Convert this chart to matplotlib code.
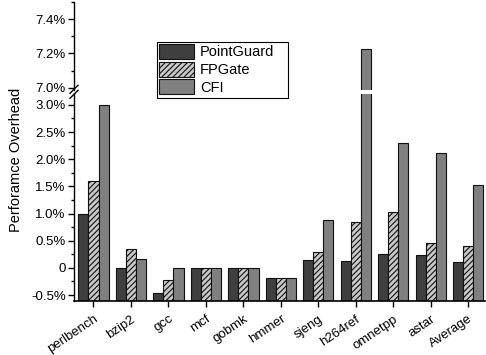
import numpy as np
import matplotlib
matplotlib.use("Agg")
import matplotlib.pyplot as plt
from matplotlib.patches import Rectangle
from matplotlib.ticker import FixedLocator, FuncFormatter

plt.rcParams['font.family'] = ['Liberation Sans', 'DejaVu Sans']
plt.rcParams['hatch.linewidth'] = 0.8

# 数据
benchmarks = ['perlbench', 'bzip2', 'gcc', 'mcf', 'gobmk', 'hmmer',
              'sjeng', 'h264ref', 'omnetpp', 'astar', 'Average']
pointguard = [1.00, 0.00, -0.46, 0.00, 0.00, -0.18, 0.15, 0.12, 0.26, 0.24, 0.11]
fpgate = [1.60, 0.355, -0.225, 0.00, 0.00, -0.18, 0.30, 0.84, 1.03, 0.465, 0.41]
cfi = [3.00, 0.17, 0.00, 0.00, 0.00, -0.18, 0.886, 7.225, 2.30, 2.11, 1.52]

series = [('PointGuard', pointguard, '#3f3f3f', None),
          ('FPGate', fpgate, '#c8c8c8', '//////'),
          ('CFI', cfi, '#808080', None)]

W, H = 486, 355
fig = plt.figure(figsize=(W / 100, H / 100), dpi=100)
left, right = 74 / W, 485 / W
ax_top = fig.add_axes([left, 1 - 89.5 / H, right - left, 87.5 / H])
ax_bot = fig.add_axes([left, 1 - 300.5 / H, right - left, 206.5 / H])

lo_bot = -0.6
x = np.arange(len(benchmarks))
bw = 0.27
for ax in (ax_top, ax_bot):
    for k, (name, vals, col, hatch) in enumerate(series):
        h = np.array(vals) - lo_bot
        ax.bar(x + (k - 1) * bw, h, bw, bottom=lo_bot, color=col,
               edgecolor='#111111', linewidth=0.8, hatch=hatch, label=name)
    ax.set_xlim(-0.52, 10.45)
    for s in ('top', 'right'):
        ax.spines[s].set_visible(False)
    ax.spines['left'].set_linewidth(1.0)

# 上半部分
ax_top.set_ylim(6.99, 7.5)
ax_top.spines['bottom'].set_visible(False)
ax_top.set_xticks([])
ax_top.yaxis.set_major_locator(FixedLocator([7.0, 7.2, 7.4]))
ax_top.yaxis.set_minor_locator(FixedLocator([7.1, 7.3, 7.5]))
ax_top.yaxis.set_major_formatter(FuncFormatter(lambda v, p: '%.1f%%' % v))

# 下半部分
ax_bot.set_ylim(lo_bot, 3.2)
ax_bot.yaxis.set_major_locator(FixedLocator([-0.5, 0, 0.5, 1.0, 1.5, 2.0, 2.5, 3.0]))
ax_bot.yaxis.set_minor_locator(FixedLocator([-0.25, 0.25, 0.75, 1.25, 1.75, 2.25, 2.75]))
ax_bot.yaxis.set_major_formatter(
    FuncFormatter(lambda v, p: '0' if abs(v) < 1e-9 else '%.1f%%' % v))
ax_bot.set_xticks(x)
ax_bot.set_xticklabels(benchmarks, rotation=34, ha='right', rotation_mode='anchor',
                       fontsize=9.5)
ax_bot.spines['bottom'].set_linewidth(1.2)

for ax in (ax_top, ax_bot):
    ax.tick_params(axis='y', which='major', direction='out', length=4, width=1,
                   labelsize=9.5, pad=2)
    ax.tick_params(axis='y', which='minor', direction='out', length=2.5, width=1)
ax_bot.tick_params(axis='x', direction='out', length=4, width=1, pad=5)

# 断轴标记
for dy in (-2.5, 2.5):
    yc = (1 - 91.8 / H) + dy / H
    fig.add_artist(plt.Line2D([left - 4 / W, left + 4 / W],
                              [yc - 4 / H, yc + 4 / H],
                              transform=fig.transFigure, color='black', lw=1))

fig.text(16 / W, 1 - 160 / H, 'Perforamce Overhead', rotation=90,
         ha='center', va='center', fontsize=10.5)

# 图例
handles, labels = ax_bot.get_legend_handles_labels()
leg = fig.legend(handles, labels, loc='upper left',
                 bbox_to_anchor=(159 / W, 1 - 44 / H), fontsize=10.5,
                 frameon=False, handlelength=2.4, handleheight=1.2,
                 labelspacing=0.15, handletextpad=0.4, borderpad=0.0,
                 borderaxespad=0)
fig.add_artist(Rectangle((157 / W, 1 - 98 / H), 131 / W, 56 / H,
                         transform=fig.transFigure, fill=True, facecolor='white',
                         edgecolor='black', linewidth=0.8, zorder=4))
leg.set_zorder(5)

fig.savefig('out.png', dpi=100)
